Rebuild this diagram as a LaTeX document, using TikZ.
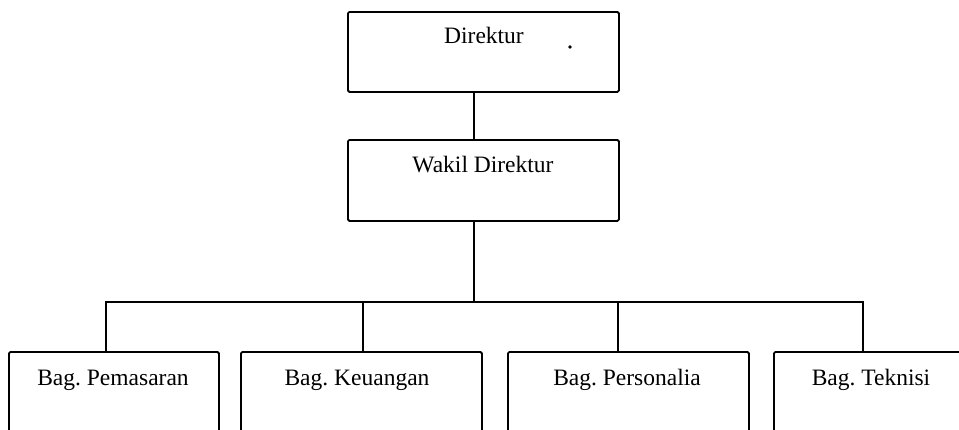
\documentclass[tikz,border=0pt]{standalone}
\usepackage{fontspec}
\setmainfont{Liberation Serif}
\begin{document}
\frenchspacing
\begin{tikzpicture}[x=1pt,y=-1pt,
  box/.style={draw, line width=1.8pt, rounded corners=1.5pt, anchor=north west, inner sep=0},
  lbl/.style={anchor=base, font=\fontsize{23.5}{27}\selectfont, inner sep=0},
  conn/.style={line width=1.7pt}]
\useasboundingbox (0,0) rectangle (959,429);
\clip (0,0) rectangle (959,429);
% top boxes
\node[box, minimum width=271pt, minimum height=80pt] (dir) at (347,11) {};
\node[box, minimum width=271pt, minimum height=81pt] (wak) at (347,139) {};
\node[lbl] (tdir) at (484,43) {Direktur};
\node[lbl] (twak) at (483,172) {Wakil Direktur};
\fill (570,47) circle (1.8pt);
% bottom boxes (cut off by the lower edge)
\node[box, minimum width=210pt, minimum height=120pt] (b1) at (8,351) {};
\node[box, minimum width=241pt, minimum height=120pt] (b2) at (240,351) {};
\node[box, minimum width=241pt, minimum height=120pt] (b3) at (507,351) {};
\node[box, minimum width=220pt, minimum height=120pt] (b4) at (773,351) {};
\node[lbl] (t1) at (113,385) {Bag. Pemasaran};
\node[lbl] (t2) at (357,385) {Bag. Keuangan};
\node[lbl] (t3) at (627,385) {Bag. Personalia};
\node[lbl] (t4) at (871,385) {Bag. Teknisi};
% connectors
\coordinate (v) at (474,0);
\coordinate (bus) at (0,302);
\coordinate (d1) at (106,0);
\coordinate (d2) at (363,0);
\coordinate (d3) at (618,0);
\coordinate (d4) at (863,0);
\draw[conn] (dir.south -| v) -- (wak.north -| v);
\draw[conn] (wak.south -| v) -- (bus -| v);
\draw[conn] (b1.north -| d1) -- (bus -| d1) -- (bus -| d4) -- (b4.north -| d4);
\draw[conn] (bus -| d2) -- (b2.north -| d2);
\draw[conn] (bus -| d3) -- (b3.north -| d3);
\end{tikzpicture}
\end{document}
